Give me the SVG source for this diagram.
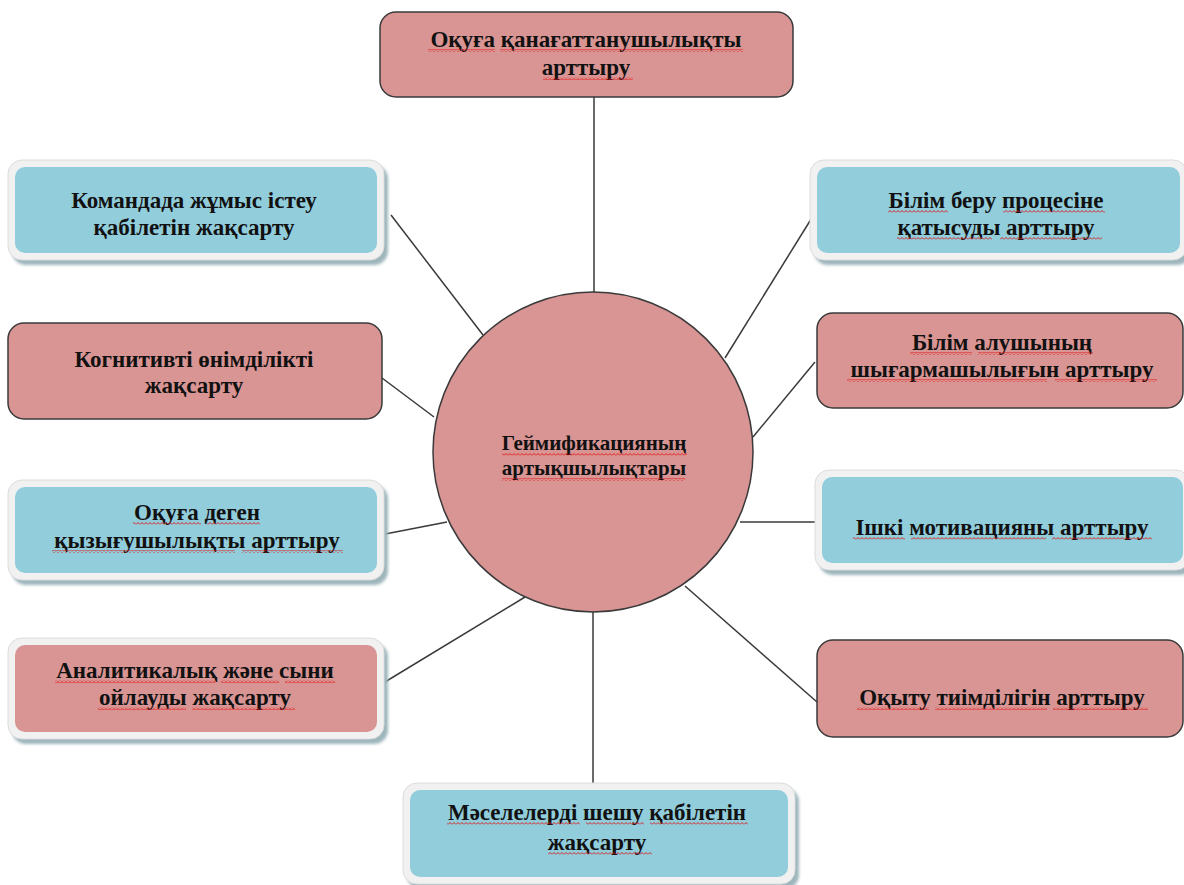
<svg xmlns="http://www.w3.org/2000/svg" width="1184" height="885" viewBox="0 0 1184 885">
<defs>
<filter id="blur" x="-10%" y="-10%" width="120%" height="130%"><feGaussianBlur stdDeviation="1.5"/></filter>
<pattern id="wave" width="4" height="3" patternUnits="userSpaceOnUse">
<path d="M0,2.5 L2,0.5 L4,2.5" fill="none" stroke="#e01010" stroke-width="0.9"/>
</pattern>
</defs>
<style>
.bg{fill:#ffffff}
.pinkA{fill:#d99594;stroke:#3a3a3a;stroke-width:1.5}
.shadow{fill:#9db6bc;filter:url(#blur)}
.frame{fill:#f1f1f1;stroke:#dcdcdc;stroke-width:1}
.blue{fill:#92cddc}
.pinkB{fill:#d99594}
.lbl{font-family:"Liberation Serif","Times New Roman",serif;font-weight:bold;font-size:23px;fill:#111;text-anchor:middle}
.sq{fill:url(#wave)}
.conn line{stroke:#3a3a3a;stroke-width:1.5}
</style>
<rect class="bg" x="0" y="0" width="1184" height="885"/>

<g class="conn" id="connectors">
<line x1="594" y1="97" x2="594" y2="292"/>
<line x1="391" y1="215" x2="483" y2="335"/>
<line x1="813" y1="216" x2="725" y2="358"/>
<line x1="382" y1="378" x2="434" y2="417"/>
<line x1="815" y1="362" x2="753" y2="437"/>
<line x1="380" y1="535" x2="447" y2="522"/>
<line x1="740" y1="522" x2="815" y2="522"/>
<line x1="380" y1="685" x2="525" y2="597"/>
<line x1="685" y1="586" x2="817" y2="702"/>
<line x1="593" y1="611" x2="593" y2="783"/>
</g>

<g id="center">
<circle class="pinkA" cx="593" cy="452" r="160"/>
<text class="lbl" style="font-size:21px" x="594" y="450">Геймификацияның</text>
<text class="lbl" style="font-size:21px" x="594" y="475">артықшылықтары</text>
<rect class="sq" x="502" y="453" width="185" height="3"/>
<rect class="sq" x="502" y="478" width="183" height="3"/>
</g>

<g id="n-top">
<rect class="pinkA" x="380" y="12" width="413" height="85" rx="16"/>
<text class="lbl" x="586" y="47">Оқуға қанағаттанушылықты</text>
<text class="lbl" x="586" y="75">арттыру</text>
<rect class="sq" x="428" y="49" width="67" height="3"/>
<rect class="sq" x="500" y="49" width="243" height="3"/>
<rect class="sq" x="543" y="77" width="90" height="3"/>
</g>

<g id="n-team">
<rect class="shadow" x="12" y="165" width="376" height="100" rx="14"/>
<rect class="frame" x="8" y="160" width="376" height="100" rx="14"/>
<rect class="blue" x="15" y="167" width="362" height="86" rx="10"/>
<text class="lbl" x="194" y="208">Командада жұмыс істеу</text>
<text class="lbl" x="194" y="235">қабілетін жақсарту</text>
</g>

<g id="n-participation">
<rect class="shadow" x="814" y="165" width="377" height="100" rx="14"/>
<rect class="frame" x="810" y="160" width="377" height="100" rx="14"/>
<rect class="blue" x="817" y="167" width="363" height="86" rx="10"/>
<text class="lbl" x="996" y="208">Білім беру процесіне</text>
<text class="lbl" x="996" y="235">қатысуды арттыру</text>
<rect class="sq" x="888" y="210" width="60" height="3"/>
<rect class="sq" x="1003" y="210" width="102" height="3"/>
<rect class="sq" x="897" y="237" width="95" height="3"/>
<rect class="sq" x="1000" y="237" width="102" height="3"/>
</g>

<g id="n-cognitive">
<rect class="pinkA" x="8" y="323" width="374" height="96" rx="16"/>
<text class="lbl" x="194" y="367">Когнитивті өнімділікті</text>
<text class="lbl" x="194" y="393">жақсарту</text>
</g>

<g id="n-creativity">
<rect class="pinkA" x="817" y="313" width="366" height="95" rx="16"/>
<text class="lbl" x="1002" y="350">Білім алушының</text>
<text class="lbl" x="1002" y="377">шығармашылығын арттыру</text>
<rect class="sq" x="910" y="352" width="62" height="3"/>
<rect class="sq" x="978" y="352" width="115" height="3"/>
<rect class="sq" x="847" y="379" width="200" height="3"/>
<rect class="sq" x="1055" y="379" width="102" height="3"/>
</g>

<g id="n-interest">
<rect class="shadow" x="12" y="485" width="376" height="100" rx="14"/>
<rect class="frame" x="8" y="480" width="376" height="100" rx="14"/>
<rect class="blue" x="15" y="487" width="362" height="86" rx="10"/>
<text class="lbl" x="197" y="520">Оқуға деген</text>
<text class="lbl" x="197" y="548">қызығушылықты арттыру</text>
<rect class="sq" x="133" y="522" width="68" height="3"/>
<rect class="sq" x="207" y="522" width="53" height="3"/>
<rect class="sq" x="52" y="550" width="183" height="3"/>
<rect class="sq" x="242" y="550" width="101" height="3"/>
</g>

<g id="n-motivation">
<rect class="shadow" x="819" y="475" width="375" height="100" rx="14"/>
<rect class="frame" x="815" y="470" width="375" height="100" rx="14"/>
<rect class="blue" x="822" y="477" width="361" height="86" rx="10"/>
<text class="lbl" x="1002" y="535">Ішкі мотивацияны арттыру</text>
<rect class="sq" x="853" y="537" width="52" height="3"/>
<rect class="sq" x="911" y="537" width="135" height="3"/>
<rect class="sq" x="1052" y="537" width="100" height="3"/>
</g>

<g id="n-analytic">
<rect class="shadow" x="12" y="643" width="376" height="101" rx="14"/>
<rect class="frame" x="8" y="638" width="376" height="101" rx="14"/>
<rect class="pinkB" x="15" y="645" width="362" height="87" rx="10"/>
<text class="lbl" x="195" y="678">Аналитикалық және сыни</text>
<text class="lbl" x="195" y="705">ойлауды жақсарту</text>
<rect class="sq" x="55" y="680" width="160" height="3"/>
<rect class="sq" x="221" y="680" width="58" height="3"/>
<rect class="sq" x="285" y="680" width="50" height="3"/>
<rect class="sq" x="98" y="707" width="88" height="3"/>
<rect class="sq" x="192" y="707" width="103" height="3"/>
</g>

<g id="n-efficiency">
<rect class="pinkA" x="817" y="640" width="366" height="97" rx="16"/>
<text class="lbl" x="1002" y="705">Оқыту тиімділігін арттыру</text>
<rect class="sq" x="857" y="707" width="72" height="3"/>
<rect class="sq" x="935" y="707" width="112" height="3"/>
<rect class="sq" x="1053" y="707" width="95" height="3"/>
</g>

<g id="n-problem">
<rect class="shadow" x="407" y="788" width="392" height="101" rx="14"/>
<rect class="frame" x="403" y="783" width="392" height="101" rx="14"/>
<rect class="blue" x="410" y="790" width="378" height="87" rx="10"/>
<text class="lbl" x="597" y="820">Мәселелерді шешу қабілетін</text>
<text class="lbl" x="597" y="850">жақсарту</text>
<rect class="sq" x="447" y="822" width="133" height="3"/>
<rect class="sq" x="586" y="822" width="58" height="3"/>
<rect class="sq" x="650" y="822" width="98" height="3"/>
<rect class="sq" x="548" y="852" width="104" height="3"/>
</g>
</svg>
